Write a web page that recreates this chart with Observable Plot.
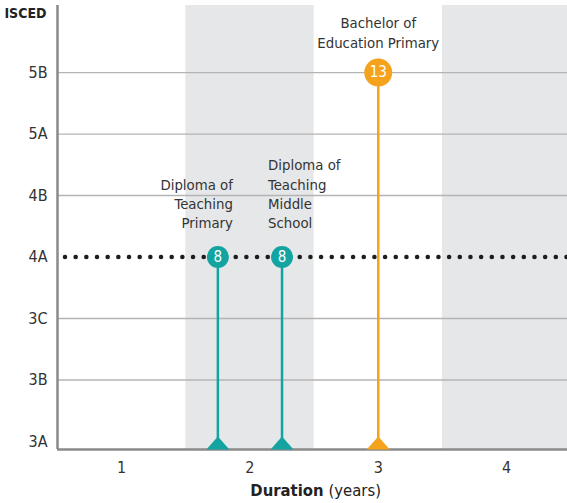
<!DOCTYPE html>
<html>
<head>
<meta charset="utf-8">
<script src="https://cdn.jsdelivr.net/npm/d3@7"></script>
<script src="https://cdn.jsdelivr.net/npm/@observablehq/plot@0.6"></script>
<style>
  html, body { margin: 0; padding: 0; background: #fff; }
  #chart svg { display: block; }
</style>
</head>
<body>
<div id="chart"></div>
<script>
// ---- data ----
const levels = ["3A", "3B", "3C", "4A", "4B", "5A", "5B"];
const gridLevels = ["3B", "3C", "4B", "5A", "5B"];
const xTicks = [1, 2, 3, 4];
const bandStarts = [1.5, 3.5];
const bandEnds = [2.5, 4.5];
const programmes = [
  "Diploma of\nTeaching\nPrimary",
  "Diploma of\nTeaching\nMiddle\nSchool",
  "Bachelor of\nEducation Primary"
];
const durations = [1.75, 2.25, 3];
const isced = ["4A", "4A", "5B"];
const values = [8, 8, 13];
const colors = ["#13a4a1", "#13a4a1", "#f5a21c"];
const referenceLevel = "4A";

// ---- build ----
const FONT = "'Liberation Sans Narrow', 'DejaVu Sans Condensed', 'Roboto', sans-serif";
const lvl = d => levels.indexOf(d);
const points = programmes.map((p, i) => ({
  label: p, duration: durations[i], level: lvl(isced[i]), value: values[i], color: colors[i]
}));
const bands = bandStarts.map((s, i) => ({start: s, end: bandEnds[i]}));
const yMin = -0.13, yMax = 7.09, xMin = 0.5, xMax = 4.475;

const flatTriangle = {
  draw(ctx) {
    ctx.moveTo(-11.5, 0);
    ctx.lineTo(11.5, 0);
    ctx.lineTo(0, -13);
    ctx.closePath();
  }
};

const textBase = {fill: "#333", fontSize: 14.8, lineHeight: 1.3};

const plot = Plot.plot({
  width: 567,
  height: 503,
  marginLeft: 57,
  marginRight: 0,
  marginTop: 5,
  marginBottom: 54,
  style: {fontFamily: FONT, fontSize: "15px", color: "#333", background: "white"},
  x: {domain: [xMin, xMax], axis: null},
  y: {domain: [yMin, yMax], axis: null},
  r: {type: "sqrt", domain: [0, 13], range: [0, 14]},
  color: {type: "identity"},
  marks: [
    Plot.rect(bands, {x1: "start", x2: "end", fill: "#e6e7e8", clip: true}),
    Plot.ruleY(gridLevels, {y: lvl, stroke: "#b4b4b4", strokeWidth: 1.3}),
    Plot.ruleY([referenceLevel], {
      y: lvl, stroke: "#1d1d1d", strokeWidth: 4.6, strokeLinecap: "round",
      strokeDasharray: "0,10.67", strokeDashoffset: 2.67
    }),
    Plot.ruleY([yMin], {stroke: "#8a8a8a", strokeWidth: 2.5}),
    Plot.ruleX([xMin], {stroke: "#8a8a8a", strokeWidth: 2.5}),
    Plot.ruleX(points, {x: "duration", y1: () => yMin, y2: "level", stroke: "color", strokeWidth: 2.5}),
    Plot.dot(points, {x: "duration", y: () => yMin, symbol: flatTriangle, fill: "color", r: 5}),
    Plot.dot(points, {x: "duration", y: "level", r: "value", fill: "color"}),
    Plot.text(points, {x: "duration", y: "level", text: d => String(d.value), fill: "white", fontSize: 15}),
    // labels
    Plot.text(points.slice(0, 1), {...textBase, x: "duration", y: "level", text: "label",
      textAnchor: "end", lineAnchor: "bottom", dx: 15, dy: -29}),
    Plot.text(points.slice(1, 2), {...textBase, x: "duration", y: "level", text: "label",
      textAnchor: "start", lineAnchor: "bottom", dx: -14, dy: -29}),
    Plot.text(points.slice(2, 3), {...textBase, x: "duration", y: "level", text: "label",
      textAnchor: "middle", lineAnchor: "bottom", dy: -25}),
    // y tick labels
    Plot.text(levels, {y: lvl, text: d => d, frameAnchor: "left", textAnchor: "end", dx: -10, fill: "#333", fontSize: 16}),
    // x tick labels
    Plot.text(xTicks, {x: d => d, text: d => String(d), frameAnchor: "bottom", lineAnchor: "middle", dy: 18, fill: "#333", fontSize: 16}),
    // axis titles
    Plot.text(["ISCED"], {text: d => d, frameAnchor: "top-left", textAnchor: "end", lineAnchor: "middle", dx: -11, dy: 8, fontWeight: "bold", fill: "#222", fontSize: 14}),
    Plot.text(["Duration"], {text: d => d, frameAnchor: "bottom", textAnchor: "end", lineAnchor: "middle", dx: 11, dy: 41, fontWeight: "bold", fill: "#222", fontSize: 16.5}),
    Plot.text(["(years)"], {text: d => d, frameAnchor: "bottom", textAnchor: "start", lineAnchor: "middle", dx: 16, dy: 41, fill: "#222", fontSize: 16.5})
  ]
});
document.getElementById("chart").appendChild(plot);
</script>
</body>
</html>
